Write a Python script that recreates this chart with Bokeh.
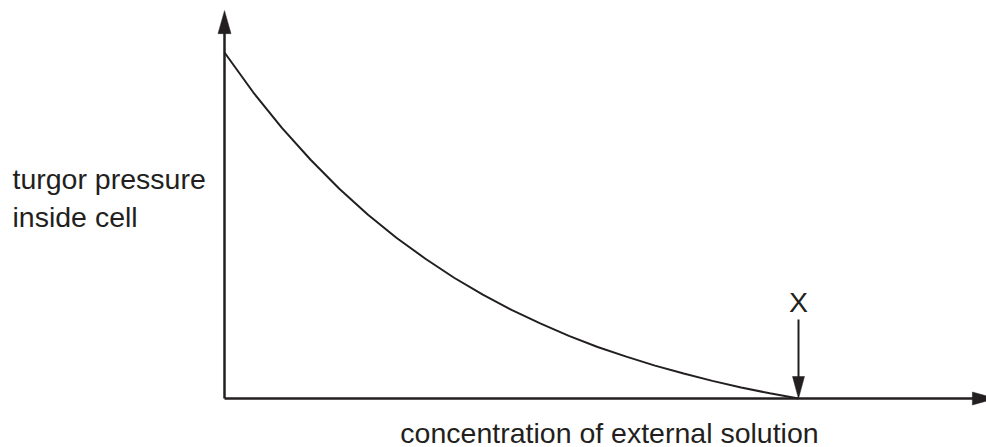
from bokeh.plotting import figure
from bokeh.models import Range1d
from bokeh.core.properties import value
from bokeh.embed import file_html
from bokeh.resources import INLINE

# ---- data ----
concentration = [0.00, 0.05, 0.10, 0.15, 0.20, 0.25, 0.30, 0.35, 0.40, 0.45, 0.50,
                 0.55, 0.60, 0.65, 0.70, 0.75, 0.80, 0.85, 0.90, 0.95, 1.00]
turgor = [1.000, 0.885, 0.782, 0.690, 0.606, 0.531, 0.464, 0.404, 0.349, 0.300, 0.256,
          0.217, 0.181, 0.149, 0.121, 0.095, 0.072, 0.051, 0.032, 0.015, 0.000]
x_point_conc = 1.0          # point X on the concentration axis
x_axis_end = 1.343          # arrow tip of the concentration axis
y_axis_end = 1.121          # arrow tip of the pressure axis
y_label_lines = ["turgor pressure", "inside cell"]
x_label = "concentration of external solution"
point_label = "X"

# ---- styles / layout ----
INK = "#231f20"
FONT = value("Liberation Sans")
FS = "28.5px"
W, H = 986, 447
SX, SY = 574.0, 346.0        # pixels per data unit
OX, OY = 224.0, 398.0        # frame pixel position of the origin (from left / from top)
TXT_SHIFT = 10               # compensation for text baseline placement (px)

x0 = -OX / SX
x1 = (W - OX) / SX
y1 = OY / SY
y0 = -(H - OY) / SY

p = figure(width=W, height=H, output_backend="svg", toolbar_location=None,
           x_range=Range1d(x0, x1), y_range=Range1d(y0, y1),
           min_border=0, min_border_left=0, min_border_right=0,
           min_border_top=0, min_border_bottom=0)
p.axis.visible = False
p.grid.visible = False
p.outline_line_color = None
p.background_fill_color = "white"
p.border_fill_color = "white"


def head(tip_x, tip_y, direction, length_px, width_px):
    """Triangle arrow head (data coords) pointing in direction ('up','right','down')."""
    lx, ly = length_px / SX, length_px / SY
    wx, wy = width_px / 2 / SX, width_px / 2 / SY
    if direction == "up":
        return [tip_x, tip_x - wx, tip_x + wx], [tip_y, tip_y - ly, tip_y - ly]
    if direction == "down":
        return [tip_x, tip_x - wx, tip_x + wx], [tip_y, tip_y + ly, tip_y + ly]
    return [tip_x, tip_x - lx, tip_x - lx], [tip_y, tip_y - wy, tip_y + wy]


def ty(screen_y):
    """data y for a text baseline at the given screen y."""
    return (OY - (screen_y - TXT_SHIFT)) / SY


# axes
yh_len, xh_len = 23, 23
p.line([0, 0], [0, y_axis_end - (yh_len - 4) / SY], line_color=INK, line_width=2.5)
p.line([0, x_axis_end - (xh_len - 4) / SX], [0, 0], line_color=INK, line_width=2.5)
hx, hy = head(0, y_axis_end, "up", yh_len, 13)
p.patch(hx, hy, fill_color=INK, line_color=INK, line_width=0.5)
hx, hy = head(x_axis_end, 0, "right", xh_len, 13)
p.patch(hx, hy, fill_color=INK, line_color=INK, line_width=0.5)

# curve
p.line(concentration, turgor, line_color=INK, line_width=2)

# X marker arrow
arrow_top = 79 / SY
p.line([x_point_conc, x_point_conc], [arrow_top, 18 / SY], line_color=INK, line_width=2)
hx, hy = head(x_point_conc, 0, "down", 22, 12)
p.patch(hx, hy, fill_color=INK, line_color=INK, line_width=0.5)
p.text(x=[x_point_conc], y=[ty(311)], text=[point_label],
       text_font=FONT, text_font_size=FS, text_color=INK,
       text_align="center", text_baseline="alphabetic")

# y label (left of the axis)
p.text(x=[(12 - OX) / SX] * 2, y=[ty(188), ty(226)],
       text=y_label_lines, text_font=FONT, text_font_size=FS, text_color=INK,
       text_align="left", text_baseline="alphabetic")

# x label
p.text(x=[(609 - OX) / SX], y=[ty(442)], text=[x_label],
       text_font=FONT, text_font_size=FS, text_color=INK,
       text_align="center", text_baseline="alphabetic")

open("out.html", "w").write(file_html(p, INLINE))
